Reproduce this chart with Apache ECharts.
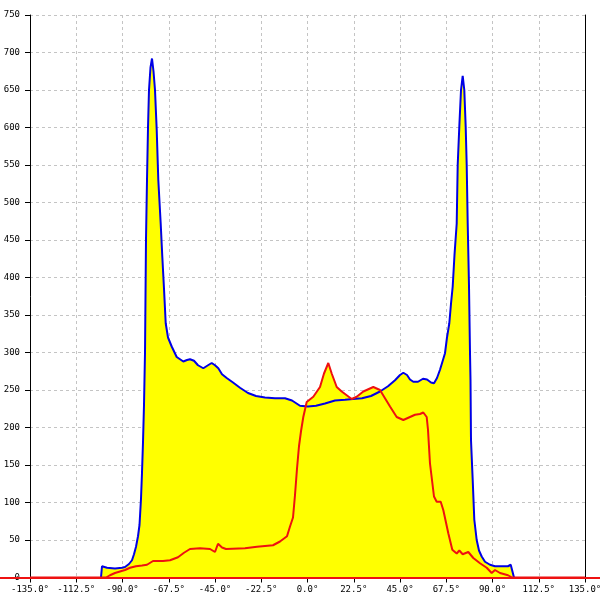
<!DOCTYPE html>
<html>
<head>
<meta charset="utf-8">
<script src="https://cdn.jsdelivr.net/npm/echarts@6/dist/echarts.min.js"></script>
<style>html,body{margin:0;padding:0;background:#fff;overflow:hidden}#c{width:600px;height:600px}</style>
</head>
<body>
<div id="c"></div>
<script>
// Angle (degrees) and counts for the blue curve
const blueAngles = [-100.46,-99.97,-97.54,-93.65,-90.24,-88.78,-86.84,-85.38,-84.41,-83.43,-82.46,-81.73,-81.0,-80.51,-80.03,-79.54,-79.05,-78.57,-78.08,-77.59,-77.11,-76.38,-75.65,-74.92,-74.19,-73.36,-72.58,-71.42,-70.64,-69.81,-68.98,-67.86,-66.06,-63.63,-60.42,-58.62,-57.16,-55.22,-53.27,-50.69,-48.41,-46.61,-45.0,-43.39,-41.59,-39.31,-36.24,-32.84,-28.95,-25.05,-20.68,-15.81,-10.95,-7.54,-3.65,0.24,4.14,8.51,13.38,18.24,22.14,26.51,30.89,35.27,39.16,42.57,45.0,46.61,48.41,49.86,51.47,53.76,56.19,58.14,60.08,61.54,63.0,64.46,65.68,66.89,67.86,68.99,69.81,70.64,71.51,72.59,73.07,73.85,74.68,75.5,76.28,76.96,77.45,77.94,78.57,79.05,79.3,79.54,80.37,81.15,82.31,83.43,84.75,86.35,88.78,91.22,94.62,97.54,98.86,99.73,100.46];
const blueCounts = [0,15,13,12,13,14,18,23,31,41,55,70,105,140,180,230,300,450,530,600,650,680,692,675,650,597,530,472,428,385,339,320,308,294,288,290,291,289,283,279,283,286,283,279,271,266,260,253,246,242,240,239,239,236,229,228,229,232,236,237,238,239,242,248,255,263,270,273,270,264,261,261,265,264,260,259,266,277,288,299,320,339,365,388,430,472,550,601,650,669,650,601,550,472,388,300,263,183,130,77,50,36,28,21,17,15,15,15,17,15,0];
// Angle (degrees) and counts for the red curve
const redAngles = [-135,-98.03,-96.08,-93.65,-91.22,-88.78,-86.35,-83.43,-80.51,-78.08,-75.16,-70.3,-66.89,-63.0,-60.08,-57.16,-52.3,-47.43,-45.0,-43.54,-41.59,-39.65,-30.41,-24.57,-16.78,-13.38,-9.97,-8.51,-7.05,-6.08,-5.11,-4.14,-3.16,-2.04,-0.39,2.82,6.08,8.03,10.12,11.77,14.21,16.64,19.07,21.5,23.94,27.15,32.01,35.27,37.7,40.14,43.39,46.61,49.86,52.3,54.73,56.34,57.99,58.62,59.59,61.54,62.85,64.8,66.06,68.5,70.44,72.58,73.85,75.5,78.23,80.66,83.92,87.18,89.61,91.22,93.65,97.54,99.49,135];
const redCounts = [0,0,3,6,8,10,13,15,16,17,22,22,23,27,33,38,39,38,34,45,40,38,39,41,43,48,55,68,80,110,145,175,195,214,234,241,254,272,286,272,254,248,243,238,241,248,254,250,239,228,214,210,214,217,218,220,214,197,152,108,101,101,90,59,37,32,36,31,34,26,19,13,6,10,6,3,0,0];
const yTicks = [0,50,100,150,200,250,300,350,400,450,500,550,600,650,700,750];
const xTicks = [-135,-112.5,-90,-67.5,-45,-22.5,0,22.5,45,67.5,90,112.5,135];

const zip = (a,b) => a.map((v,i)=>[v,b[i]]);
const blueData = zip(blueAngles, blueCounts);
const redData = zip(redAngles, redCounts);

const YELLOW = '#ffff00', BLUE = '#0000e6', RED = '#ee1111';
const labelFont = {fontFamily:'DejaVu Sans Mono', fontSize:9, color:'#000'};
const split = {show:true, lineStyle:{color:'#c4c4c4', type:[3,3], width:1}};
const yMin = yTicks[0], yMax = yTicks[yTicks.length-1];

const chart = echarts.init(document.getElementById('c'), null, {renderer:'canvas'});
chart.setOption({
  animation:false,
  grid:[
    {left:30, right:15, top:15, bottom:22.5, containLabel:false, outerBoundsMode:'none'},
    {left:0, right:0, top:15, bottom:22.5, containLabel:false, outerBoundsMode:'none'}
  ],
  xAxis:[
   {type:'value', gridIndex:0, min:xTicks[0], max:xTicks[xTicks.length-1], interval:22.5,
    axisLine:{show:true, onZero:false, lineStyle:{color:'#000', width:1}},
    axisTick:{show:true, length:5, lineStyle:{color:'#000'}},
    axisLabel:Object.assign({margin:8, showMinLabel:true, showMaxLabel:true, hideOverlap:false, formatter:v=>v.toFixed(1)+'°'}, labelFont),
    splitLine:split},
   {type:'value', gridIndex:1, min:0, max:1, show:false}
  ],
  yAxis:[
   {type:'value', gridIndex:0, min:yMin, max:yMax, interval:50,
    axisLine:{show:true, onZero:false, lineStyle:{color:'#000', width:1}},
    axisTick:{show:true, length:5, lineStyle:{color:'#000'}},
    axisLabel:Object.assign({margin:10}, labelFont),
    splitLine:split},
   {type:'value', gridIndex:0, position:'right', min:yMin, max:yMax, interval:50,
    axisLine:{show:true, onZero:false, lineStyle:{color:'#000', width:1}},
    axisTick:{show:false}, axisLabel:{show:false}, splitLine:{show:false}},
   {type:'value', gridIndex:1, min:yMin, max:yMax, show:false}
  ],
  series:[
    {type:'line', data:blueData, symbol:'none', lineStyle:{width:0}, areaStyle:{color:YELLOW, opacity:1}, z:1},
    {type:'line', data:redData, symbol:'none', lineStyle:{width:0}, areaStyle:{color:YELLOW, opacity:1}, z:1},
    {type:'line', data:blueData, symbol:'none', lineStyle:{width:2, color:BLUE}, z:3},
    {type:'line', data:redData, symbol:'none', lineStyle:{width:2, color:RED}, z:4},
    {type:'line', xAxisIndex:1, yAxisIndex:2, data:[], symbol:'none', z:5,
     markLine:{silent:true, symbol:'none', animation:false, label:{show:false},
       lineStyle:{color:RED, width:2, type:'solid'}, data:[{yAxis:0}]}}
  ]
});
</script>
</body>
</html>
